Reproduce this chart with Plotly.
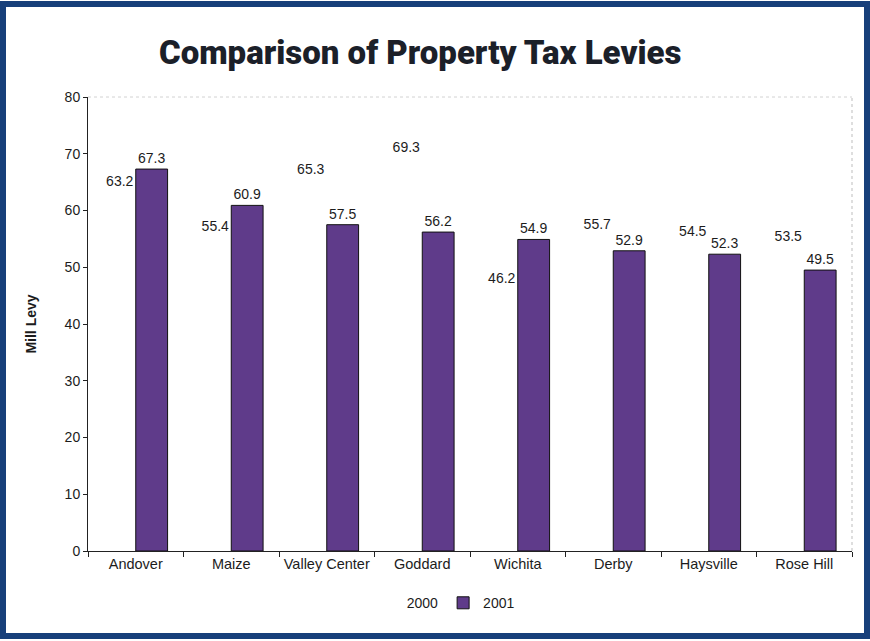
import plotly.graph_objects as go

# Mill levy by city, 2000 vs 2001
cities = ["Andover", "Maize", "Valley Center", "Goddard", "Wichita",
          "Derby", "Haysville", "Rose Hill"]
levy_2000 = [63.2, 55.4, 65.3, 69.3, 46.2, 55.7, 54.5, 53.5]
levy_2001 = [67.3, 60.9, 57.5, 56.2, 54.9, 52.9, 52.3, 49.5]
y_ticks = [0, 10, 20, 30, 40, 50, 60, 70, 80]

W, H = 870, 641
M_L, M_R, M_T, M_B = 88, 18, 97, 90
label_font = dict(family="Liberation Sans, Arial, sans-serif", size=14, color="#1c1c1c")

fig = go.Figure()

# 2000 series: printed without fill, only its value labels show
fig.add_trace(go.Bar(
    name="2000", x=cities, y=levy_2000,
    marker=dict(color="rgba(255,255,255,0)", line=dict(width=0)),
    text=[f"{v:.1f}" for v in levy_2000], textposition="outside",
    textfont=label_font, cliponaxis=False,
))

fig.add_trace(go.Bar(
    name="2001", x=cities, y=levy_2001,
    marker=dict(color="#5f3b8a", line=dict(color="#111111", width=1)),
    text=[f"{v:.1f}" for v in levy_2001], textposition="outside",
    textfont=label_font, cliponaxis=False,
))

# blue frame around the whole page, expressed in paper units
pw = W - M_L - M_R
ph = H - M_T - M_B
def px_x(px):
    return (px - M_L) / pw
def px_y(py):
    return (H - M_B - py) / ph

fig.add_shape(type="rect", xref="paper", yref="paper",
              x0=px_x(3), x1=px_x(W - 3), y0=px_y(H - 5), y1=px_y(4),
              line=dict(color="#173f7a", width=6), layer="above")

# faint plot-area border on top and right
fig.add_shape(type="line", xref="paper", yref="paper", x0=0, x1=1, y0=1, y1=1,
              line=dict(color="#d2d2d2", width=1, dash="dot"))
fig.add_shape(type="line", xref="paper", yref="paper", x0=1, x1=1, y0=0, y1=1,
              line=dict(color="#bdbdbd", width=1, dash="dot"))

fig.update_layout(
    width=W, height=H,
    margin=dict(l=M_L, r=M_R, t=M_T, b=M_B),
    paper_bgcolor="white", plot_bgcolor="white",
    barmode="group", bargap=1/3, bargroupgap=0,
    title=dict(text="Comparison of Property Tax Levies",
               x=0.483, xanchor="center", y=0.918, yanchor="middle",
               font=dict(family="Roboto, Liberation Sans, sans-serif", weight=900,
                         size=33, color="#1b2029")),
    font=label_font,
    showlegend=True,
    legend=dict(orientation="h", x=0.465, xanchor="center", y=-0.115, yanchor="middle",
                font=label_font, itemwidth=30, traceorder="normal"),
    xaxis=dict(showline=True, linecolor="#222", linewidth=1,
               ticks="outside", tickson="boundaries", ticklen=5, tickcolor="#222",
               tickfont=dict(family="Liberation Sans, Arial, sans-serif", size=14.5,
                             color="#1c1c1c"),
               showgrid=False),
    yaxis=dict(range=[0, 80], tickvals=y_ticks, showline=True, linecolor="#222",
               linewidth=1, ticks="outside", ticklen=4, tickcolor="#222",
               tickfont=label_font, showgrid=False, zeroline=False,
               title=dict(text="<b>Mill Levy</b>",
                          font=dict(family="Liberation Sans, Arial, sans-serif", size=14,
                                    color="#1c1c1c"),
                          standoff=24)),
)

fig.write_html("out.html")
